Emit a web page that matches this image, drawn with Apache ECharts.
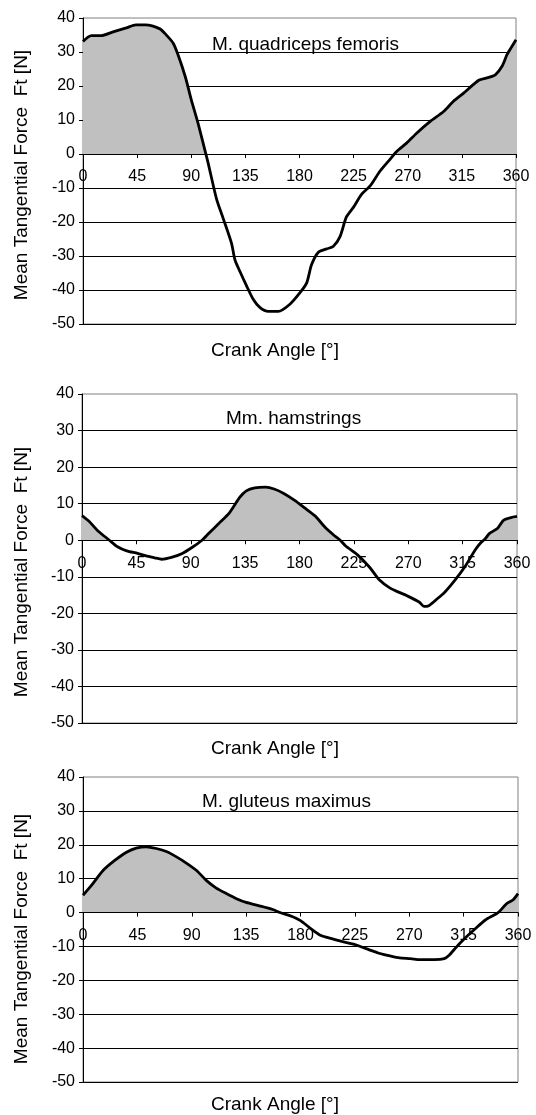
<!DOCTYPE html>
<html>
<head>
<meta charset="utf-8">
<script src="https://cdn.jsdelivr.net/npm/echarts@6/dist/echarts.min.js"></script>
<style>
  html, body { margin: 0; padding: 0; background: #fff; }
  #main { width: 536px; height: 1115px; }
</style>
</head>
<body>
<div id="main"></div>
<script>
// crank angle ticks
var angleTicks = [0, 45, 90, 135, 180, 225, 270, 315, 360];
var forceMin = -50, forceMax = 40, forceStep = 10;

var titles = ['M. quadriceps femoris', 'Mm. hamstrings', 'M. gluteus maximus'];
var xName = 'Crank Angle [°]';
var yName = 'Mean Tangential Force  Ft [N]';

// [angle, force]
var quadriceps = [
    [0, 33.1], [7, 34.8], [15, 34.8], [25, 35.9], [36, 37.1], [44, 38], [52, 38],
    [64, 36.8], [69, 35.1], [75, 32.6], [79, 29.2], [85, 22.8], [90, 16], [96, 8.6],
    [100.5, 2.3], [104, -2.6], [111, -13.2], [116.6, -19], [123.5, -26.3],
    [126.3, -31.1], [130.4, -34.5], [136, -38.8], [141.5, -42.7], [147, -45.1],
    [154, -46.3], [162.4, -46.3], [172, -44.2], [180.4, -40.8], [186, -37.9],
    [190, -32.6], [195.7, -28.9], [202.6, -27.9], [208, -27.2], [213.7, -24.3],
    [219, -18.5], [224.8, -15.7], [231.7, -11.8], [238.7, -9.4], [247, -5],
    [254, -2.1], [261, 0.8], [269, 3.2], [277.6, 6.2], [288.7, 9.6], [299.8, 12.5],
    [308, 15.5], [316.4, 17.9], [329, 21.7], [336, 22.4], [342.8, 23.3],
    [348.4, 25.8], [352.5, 29.2], [356.7, 31.7], [360, 33.6]
];
var hamstrings = [
    [0, 6.7], [6, 5.1], [13, 2.6], [22.7, 0], [29, -1.7], [37, -2.9], [46, -3.6],
    [53, -4.3], [60, -4.8], [66, -5.2], [74, -4.7], [82.5, -3.7], [91, -2],
    [99.3, 0], [105, 1.9], [113.6, 4.7], [122, 7.5], [130.5, 11.7], [136, 13.5],
    [143, 14.3], [152, 14.5], [159, 14], [167, 12.8], [176, 10.9], [184, 8.9],
    [193, 6.6], [201, 3.6], [208, 1.5], [213.7, 0], [218, -1.5], [228, -4],
    [238, -7.4], [246, -10.8], [255, -13.1], [262, -14.2], [269, -15.2],
    [279, -16.9], [283, -18.1], [287, -17.9], [293, -16.3], [300, -14.3],
    [308.5, -11], [317, -7.2], [325.5, -2.6], [330, -0.7], [333.7, 0.4],
    [337, 1.8], [344, 3.3], [349, 5.5], [355, 6.2], [360, 6.5]
];
var gluteus = [
    [0, 5.1], [7, 8], [16.6, 12.4], [26, 15.3], [36, 17.8], [44, 19], [52.4, 19.4],
    [60.7, 18.9], [69, 18], [77, 16.5], [85.5, 14.6], [94, 12.4], [102, 9.5],
    [110, 7.3], [118.6, 5.6], [127, 4.1], [135, 3], [146, 2], [157, 0.9], [163, 0],
    [174, -1.3], [180, -2.4], [188.8, -4.8], [197, -6.8], [205.8, -7.7], [214, -8.5],
    [225.6, -9.5], [237, -11], [245, -12], [254, -12.8], [262, -13.4], [271, -13.6],
    [279, -13.9], [290.7, -13.9], [299, -13.6], [303, -12.6], [309, -10.2],
    [314.6, -8.1], [324.6, -4.8], [333, -2.2], [343.5, 0], [350.5, 2.6],
    [356, 3.8], [360, 5.6]
];
var seriesData = [quadriceps, hamstrings, gluteus];

// panel layout
var panels = [
    { left: 83, top: 18, width: 433, height: 306, yNameY: 175, xNameY: 351, titleX: 212, titleY: 45 },
    { left: 82, top: 394, width: 435, height: 329, yNameY: 572, xNameY: 749, titleX: 226, titleY: 419 },
    { left: 83, top: 777, width: 435, height: 305, yNameY: 939, xNameY: 1105, titleX: 202, titleY: 802 }
];

var font = '"Liberation Sans", Arial, sans-serif';
var chartObj = echarts.init(document.getElementById('main'), null, { renderer: 'canvas' });

var grids = [], xAxes = [], yAxes = [], series = [], graphics = [];
for (var i = 0; i < panels.length; i++) {
    var p = panels[i];
    var zeroFrac = forceMax / (forceMax - forceMin);
    grids.push({
        left: p.left, top: p.top, width: p.width, height: p.height,
        show: true, borderColor: '#808080', borderWidth: 1, backgroundColor: 'transparent'
    });
    // x axis sits on the zero line, labels go with it
    xAxes.push({
        type: 'value', gridIndex: i, min: angleTicks[0], max: angleTicks[angleTicks.length - 1],
        interval: 45, position: 'bottom', offset: -p.height * (1 - zeroFrac),
        axisLine: { onZero: false, lineStyle: { color: '#000', width: 1 } },
        axisTick: { show: true, length: 4, lineStyle: { color: '#000' } },
        axisLabel: { color: '#000', fontSize: 16, fontFamily: font, margin: 15 },
        splitLine: { show: false },
        z: 5
    });
    yAxes.push({
        type: 'value', gridIndex: i, min: forceMin, max: forceMax, interval: forceStep,
        axisLine: { show: true, lineStyle: { color: '#000', width: 1 } },
        axisTick: { show: true, length: 4, lineStyle: { color: '#000' } },
        axisLabel: { color: '#000', fontSize: 16, fontFamily: font, margin: 8 },
        splitLine: { show: true, showMaxLine: false, lineStyle: { color: '#000', width: 1 } }
    });
    // grey fill only above the zero line
    var fill = new echarts.graphic.LinearGradient(0, p.top, 0, p.top + p.height, [
        { offset: 0, color: '#c0c0c0' },
        { offset: zeroFrac, color: '#c0c0c0' },
        { offset: zeroFrac, color: 'rgba(255,255,255,0)' },
        { offset: 1, color: 'rgba(255,255,255,0)' }
    ], true);
    series.push({
        type: 'line', xAxisIndex: i, yAxisIndex: i,
        data: seriesData[i], smooth: 0.25, symbol: 'none',
        lineStyle: { color: '#000', width: 2.8 },
        areaStyle: { color: fill, opacity: 1, origin: 0 },
        z: 3
    });
    graphics.push({
        type: 'text', x: 22, y: p.yNameY, rotation: Math.PI / 2,
        style: { text: yName, font: '19px ' + font, fill: '#000', textAlign: 'center', textVerticalAlign: 'middle' }
    });
    graphics.push({
        type: 'text', x: 275, y: p.xNameY,
        style: { text: xName, font: '19px ' + font, fill: '#000', textAlign: 'center', textVerticalAlign: 'middle' }
    });
    graphics.push({
        type: 'text', x: p.titleX, y: p.titleY, z: 10,
        style: { text: titles[i], font: '19px ' + font, fill: '#000', textAlign: 'left', textVerticalAlign: 'middle' }
    });
}

var chartOpt = {
    backgroundColor: '#fff',
    animation: false,
    grid: grids,
    xAxis: xAxes,
    yAxis: yAxes,
    series: series,
    graphic: graphics
};
chartObj.setOption(chartOpt);
</script>
</body>
</html>
